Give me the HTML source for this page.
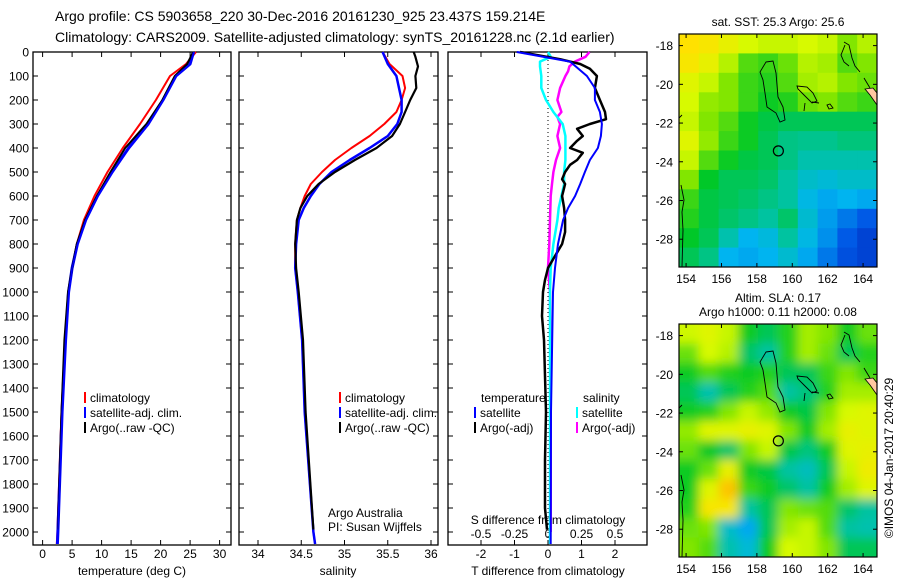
<!DOCTYPE html>
<html><head><meta charset="utf-8">
<style>
html,body{margin:0;padding:0;background:#fff;}
svg{display:block;font-family:"Liberation Sans",sans-serif;}
</style></head>
<body>
<svg id="fig" width="900" height="580" viewBox="0 0 900 580" xmlns="http://www.w3.org/2000/svg">
<defs>
<filter id="blur2" x="-10%" y="-10%" width="120%" height="120%"><feGaussianBlur stdDeviation="5"/></filter>
<clipPath id="clipM1"><rect x="679" y="34" width="198" height="233"/></clipPath>
<clipPath id="clipM2"><rect x="679" y="324" width="198" height="233"/></clipPath>
</defs>
<text x="55" y="21" font-size="14">Argo profile: CS 5903658_220 30-Dec-2016 20161230_925 23.437S 159.214E</text>
<text x="55" y="42" font-size="14">Climatology: CARS2009. Satellite-adjusted climatology: synTS_20161228.nc (2.1d earlier)</text>
<g id="plots"></g>
</svg>
<script>
// ---------- data ----------
const depthT = [0,50,100,200,300,400,500,600,700,800,900,1000,1200,1500,2000,2050];
const tempClim = [26,24.3,21.6,19.2,16.5,13.6,11.0,8.8,7.0,5.8,5.0,4.4,3.8,3.2,2.5,2.4];
const tempSat  = [25.6,25.0,22.6,20.4,17.9,14.6,11.8,9.3,7.3,5.9,5.0,4.4,3.9,3.3,2.6,2.5];
const depthA = [0,50,100,200,300,400,500,600,700,800,900,1000,1200,1500,1990];
const tempArgo = [25.5,24.5,22.4,20.3,17.6,14.0,11.5,9.2,7.2,5.8,5.0,4.3,3.7,3.2,2.6];

const depthS = [0,50,100,150,200,250,300,350,400,450,500,550,600,650,700,800,900,1000,1200,1500,1700,2000,2050];
const salClim = [35.44,35.52,35.67,35.70,35.66,35.60,35.46,35.29,35.08,34.89,34.74,34.61,34.54,34.49,34.45,34.43,34.43,34.46,34.51,34.54,34.58,34.64,34.66];
const salSat  = [35.44,35.50,35.60,35.63,35.66,35.66,35.61,35.50,35.29,35.06,34.85,34.71,34.61,34.53,34.47,34.44,34.43,34.46,34.51,34.54,34.58,34.64,34.66];
const depthSA = [0,20,60,100,150,200,250,300,350,400,450,500,550,600,650,700,800,900,1000,1200,1500,1990];
const salArgo = [35.80,35.82,35.85,35.82,35.83,35.76,35.70,35.64,35.55,35.37,35.12,34.89,34.70,34.57,34.49,34.45,34.43,34.44,34.47,34.52,34.55,34.64];

const depthD1 = [0,40,100,150,200,250,300,350,400,450,500,550,600,650,700,800,900,1000,1500,2050];
const dTsat = [-0.93,0.66,1.16,1.4,1.4,1.55,1.61,1.58,1.49,1.25,1.1,0.96,0.81,0.6,0.45,0.3,0.21,0.15,0.09,0.08];
const depthD2 = [0,30,50,70,100,150,200,250,280,300,320,350,370,400,420,450,470,500,530,550,600,650,700,750,800,850,900,950,1000,1100,1200,1500,1700,1900,1990];
const dTargo = [-0.84,0.36,0.96,1.25,1.46,1.4,1.55,1.7,1.73,1.25,0.87,1.04,0.87,0.66,1.04,0.87,0.66,0.51,0.42,0.51,0.42,0.48,0.51,0.51,0.42,0.21,0,-0.09,-0.15,-0.18,-0.12,-0.06,-0.09,-0.09,-0.03];
const depthD3 = [0,20,40,60,100,150,200,250,300,350,400,450,500,550,600,650,700,800,900,1000,1500,2050];
const dSsat = [0,0.02,-0.06,-0.06,-0.05,-0.05,-0.015,0.04,0.11,0.13,0.13,0.13,0.12,0.12,0.1,0.08,0.07,0.04,0.02,0.015,0.015,0.015];
const depthD4 = [0,20,40,60,80,100,150,200,250,270,300,350,400,450,500,550,600,700,800,900,1000,1500,2000];
const dSargo = [0.31,0.28,0.2,0.16,0.15,0.13,0.09,0.07,0.1,0.07,0.09,0.07,0.09,0.06,0.04,0.03,0.02,0.015,0.01,0,0.015,0.02,0.02];

const depthTicks = [0,100,200,300,400,500,600,700,800,900,1000,1100,1200,1300,1400,1500,1600,1700,1800,1900,2000];
const tempTicks = [0,5,10,15,20,25,30];
const salTicks = [34,34.5,35,35.5,36];
const salTickLabels = ["34","34.5","35","35.5","36"];
const dTTicks = [-2,-1,0,1,2];
const dSTicks = [-0.5,-0.25,0,0.25,0.5];
const dSTickLabels = ["-0.5","-0.25","0","0.25","0.5"];

const lonTicks = [154,156,158,160,162,164];
const latTicks = [-18,-20,-22,-24,-26,-28];
// map grids: rows from north (-17.5) to south, cols from 153.6 eastward; values 0..1 on colormap
const sstGrid = [
[0.86,0.84,0.8,0.76,0.74,0.74,0.76,0.74,0.66,0.72],
[0.84,0.8,0.72,0.62,0.6,0.64,0.72,0.7,0.62,0.66],
[0.78,0.74,0.66,0.6,0.58,0.62,0.7,0.72,0.66,0.64],
[0.76,0.68,0.66,0.6,0.56,0.58,0.64,0.66,0.62,0.6],
[0.74,0.66,0.62,0.56,0.52,0.5,0.5,0.5,0.5,0.5],
[0.78,0.68,0.6,0.56,0.5,0.45,0.44,0.44,0.46,0.46],
[0.74,0.62,0.56,0.52,0.5,0.45,0.4,0.4,0.4,0.4],
[0.66,0.55,0.5,0.5,0.48,0.42,0.36,0.34,0.36,0.36],
[0.6,0.52,0.5,0.48,0.45,0.42,0.32,0.28,0.3,0.28],
[0.58,0.52,0.48,0.45,0.42,0.48,0.35,0.26,0.2,0.15],
[0.55,0.5,0.4,0.3,0.33,0.42,0.32,0.24,0.15,0.08],
[0.5,0.45,0.3,0.28,0.3,0.35,0.28,0.2,0.12,0.08]];
const slaGrid = [
[0.75,0.78,0.74,0.56,0.5,0.58,0.7,0.66,0.56,0.64],
[0.64,0.76,0.72,0.48,0.42,0.58,0.7,0.64,0.5,0.58],
[0.56,0.62,0.58,0.56,0.58,0.5,0.5,0.6,0.66,0.6],
[0.5,0.4,0.5,0.58,0.62,0.42,0.46,0.58,0.7,0.7],
[0.56,0.58,0.66,0.74,0.68,0.56,0.52,0.66,0.76,0.78],
[0.68,0.78,0.78,0.8,0.78,0.66,0.56,0.7,0.8,0.78],
[0.64,0.55,0.48,0.66,0.74,0.52,0.46,0.56,0.78,0.8],
[0.56,0.64,0.8,0.56,0.52,0.42,0.38,0.5,0.74,0.82],
[0.56,0.78,0.9,0.6,0.56,0.48,0.42,0.56,0.7,0.78],
[0.58,0.84,0.84,0.42,0.5,0.66,0.64,0.62,0.48,0.42],
[0.64,0.66,0.36,0.28,0.5,0.7,0.74,0.62,0.42,0.4],
[0.66,0.62,0.4,0.34,0.56,0.76,0.74,0.66,0.5,0.5]];
const argoLon = 159.214;
const argoLat = -23.437;

// ---------- helpers ----------
const NS = "http://www.w3.org/2000/svg";
const root = document.getElementById('plots');
function mk(tag, attrs, parent, txt){
  const e = document.createElementNS(NS, tag);
  for (const k in attrs) e.setAttribute(k, attrs[k]);
  if (txt !== undefined) e.textContent = txt;
  (parent || root).appendChild(e);
  return e;
}
const TOP = 52, BOT = 545;
const yD = d => TOP + d * 0.24;
const xT = t => 42.6 + t * 5.9;
const xS = s => 258 + (s - 34) * 86.5;
const xDT = v => 548 + v * 33.5;
const xDS = v => 548 + v * 134;

function panel(x0, x1, name){
  const r = mk('rect', {x:x0, y:TOP, width:x1-x0, height:BOT-TOP, fill:'none', stroke:'#000', 'stroke-width':1.3});
  
  
}
function line(xs, ds, xf, color, w, name){
  const pts = xs.map((v,i) => xf(v).toFixed(1) + ',' + yD(ds[i]).toFixed(1)).join(' ');
  const p = mk('polyline', {points:pts, fill:'none', stroke:color, 'stroke-width':w, 'stroke-linejoin':'round'});
  
  
}
function xticks(vals, labels, xf, x0, x1, yLab, name){
  vals.forEach((v,i) => {
    const x = xf(v);
    mk('line', {x1:x, y1:BOT, x2:x, y2:BOT-5, stroke:'#000'});
    mk('line', {x1:x, y1:TOP, x2:x, y2:TOP+5, stroke:'#000'});
    const t = mk('text', {x:x, y:yLab, 'font-size':12, 'text-anchor':'middle'}, root, labels[i]);
    
    
  });
}
function txt(x, y, s, name, size, anchor){
  const t = mk('text', {x:x, y:y, 'font-size':size||12, 'text-anchor':anchor||'start'}, root, s);
  
  
  return t;
}
function legend(x, y, color, label, name){
  const r = mk('rect', {x:x, y:y-10, width:2, height:11, fill:color});
  
  
  txt(x+6, y, label, name);
}

// ---------- panel 1: temperature ----------
panel(33, 231, 'temperature-panel');
depthTicks.forEach(d => {
  mk('line', {x1:33, y1:yD(d), x2:38, y2:yD(d), stroke:'#000'});
  [231,239,438,448,647].forEach(xx => {
    const dir = (xx===231||xx===438||xx===647) ? -5 : 5;
    mk('line', {x1:xx, y1:yD(d), x2:xx+dir, y2:yD(d), stroke:'#000'});
  });
  const t = mk('text', {x:29, y:yD(d)+4.5, 'font-size':12, 'text-anchor':'end'}, root, String(d));
  
  
});
xticks(tempTicks, tempTicks.map(String), xT, 33, 231, 558, 'temperature');
txt(132, 575, 'temperature (deg C)', 'temperature-axis-title', 12, 'middle');
line(tempClim, depthT, xT, '#f00', 2, 'temperature-climatology-line');
line(tempSat, depthT, xT, '#00f', 3, 'temperature-satellite-line');
line(tempArgo, depthA, xT, '#000', 2, 'temperature-argo-line');
line(tempSat, depthT, xT, '#00f', 1.5, 'temperature-satellite-line-top');
legend(84, 402, '#f00', 'climatology', 'legend-climatology-temp');
legend(84, 417, '#00f', 'satellite-adj. clim.', 'legend-satellite-temp');
legend(84, 432, '#000', 'Argo(..raw -QC)', 'legend-argo-temp');

// ---------- panel 2: salinity ----------
panel(239, 438, 'salinity-panel');
xticks(salTicks, salTickLabels, xS, 239, 438, 558, 'salinity');
txt(338, 575, 'salinity', 'salinity-axis-title', 12, 'middle');
line(salClim, depthS, xS, '#f00', 2, 'salinity-climatology-line');
line(salSat, depthS, xS, '#00f', 2.5, 'salinity-satellite-line');
line(salArgo, depthSA, xS, '#000', 2.2, 'salinity-argo-line');
legend(339, 402, '#f00', 'climatology', 'legend-climatology-sal');
legend(339, 417, '#00f', 'satellite-adj. clim.', 'legend-satellite-sal');
legend(339, 432, '#000', 'Argo(..raw -QC)', 'legend-argo-sal');
txt(328, 517, 'Argo Australia', 'credit-argo-australia');
txt(328, 531, 'PI: Susan Wijffels', 'credit-pi');

// ---------- panel 3: differences ----------
panel(448, 647, 'difference-panel');
const zl = mk('line', {x1:xDT(0), y1:TOP, x2:xDT(0), y2:BOT, stroke:'#000', 'stroke-dasharray':'1,3'});


xticks(dTTicks, dTTicks.map(String), xDT, 448, 647, 558, 'temperature-difference');
dSTicks.forEach((v,i) => {
  const t = mk('text', {x:xDS(v), y:538, 'font-size':12, 'text-anchor':'middle'}, root, dSTickLabels[i]);
  
  
});
txt(548, 524, 'S difference from climatology', 'salinity-difference-axis-title', 12, 'middle');
txt(548, 575, 'T difference from climatology', 'temperature-difference-axis-title', 12, 'middle');
line(dSargo, depthD4, xDS, '#f0f', 2.5, 'salinity-argo-difference-line');
line(dSsat, depthD3, xDS, '#0ff', 2.5, 'salinity-satellite-difference-line');
line(dTargo, depthD2, xDT, '#000', 2.5, 'temperature-argo-difference-line');
line(dTsat, depthD1, xDT, '#00f', 2, 'temperature-satellite-difference-line');
txt(481, 402, 'temperature', 'legend-heading-temperature');
txt(583, 402, 'salinity', 'legend-heading-salinity');
legend(474, 417, '#00f', 'satellite', 'legend-temp-satellite');
legend(474, 432, '#000', 'Argo(-adj)', 'legend-temp-argo');
legend(576, 417, '#0ff', 'satellite', 'legend-sal-satellite');
legend(576, 432, '#f0f', 'Argo(-adj)', 'legend-sal-argo');

// ---------- maps ----------
function cmap(v){
  const stops = [[0,[0,40,190]],[0.15,[0,90,230]],[0.3,[0,180,240]],[0.42,[0,195,160]],[0.55,[0,200,40]],[0.66,[130,230,0]],[0.76,[215,250,0]],[0.86,[255,225,0]],[0.95,[250,160,0]],[1,[245,110,0]]];
  for (let i=1;i<stops.length;i++){
    if (v <= stops[i][0]){
      const a=stops[i-1], b=stops[i], f=(v-a[0])/(b[0]-a[0]);
      const c=a[1].map((x,k)=>Math.round(x+(b[1][k]-x)*f));
      return 'rgb('+c.join(',')+')';
    }
  }
  return 'rgb(245,110,0)';
}
const LON0 = 153.6, LON1 = 164.8, LAT0 = -17.4, LAT1 = -29.45;
function drawMap(y0, grid, clip, blur, name){
  const mx = lon => 679 + (lon - LON0) * 17.7;
  const my = lat => y0 + (LAT0 - lat) * 19.36;
  const g = mk('g', {'clip-path':'url(#'+clip+')'});
  
  
  const inner = mk('g', blur ? {filter:'url(#blur2)'} : {}, g);
  const rows = grid.length, cols = grid[0].length;
  const cw = 198/cols, ch = 233/rows;
  grid.forEach((row, r) => row.forEach((v, c) => {
    const pad = blur ? 20 : 0;
    const x = 679 + c*cw - (c===0?pad:0), y = y0 + r*ch - (r===0?pad:0);
    const w = cw + 0.6 + (c===0||c===cols-1?pad:0), h = ch + 0.6 + (r===0||r===rows-1?pad:0);
    const cell = mk('rect', {x:x.toFixed(1), y:y.toFixed(1), width:w.toFixed(1), height:h.toFixed(1), fill:cmap(v)}, inner);
    
    
  }));
  const oy = y0 - 34;
  const land = mk('path', {d:`M873,${oy+88} L877,${oy+93} L877,${oy+105} L870,${oy+95} L865,${oy+89} Z`, fill:'#ffc8a0', stroke:'#000', 'stroke-width':0.8}, g);
  
  
  const coasts = [
    `M766,${oy+62} L773,${oy+61} L776,${oy+73} L778,${oy+97} L783,${oy+107} L785,${oy+120} L780,${oy+122} L776,${oy+113} L767,${oy+107} L765,${oy+93} L763,${oy+80} L760,${oy+72} Z`,
    `M797,${oy+86} L807,${oy+87} L813,${oy+93} L817,${oy+101} L812,${oy+103} L805,${oy+96} L798,${oy+89} Z`,
    `M844,${oy+42} L849,${oy+45} L852,${oy+58} L855,${oy+66} L860,${oy+72} M864,${oy+78} L870,${oy+88}`,
    `M845,${oy+45} L841,${oy+55} L844,${oy+62} L849,${oy+66}`,
    `M682,${oy+115} L679,${oy+118} M681,${oy+185} L684,${oy+200} L682,${oy+212} L683,${oy+230} L682,${oy+267}`,
    `M805,${oy+103} L804,${oy+111} M812,${oy+102} L819,${oy+103} M830,${oy+104} L833,${oy+108} L829,${oy+109} L827,${oy+105} Z`
  ];
  coasts.forEach(d => {
    const p = mk('path', {d:d, fill:'none', stroke:'#000', 'stroke-width':0.9}, g);
    
    
  });
  const c = mk('circle', {cx:mx(argoLon), cy:my(argoLat), r:5, fill:'none', stroke:'#000', 'stroke-width':1.2});
  
  
  const fr = mk('rect', {x:679, y:y0, width:198, height:233, fill:'none', stroke:'#000', 'stroke-width':1.2});
  
  
  lonTicks.forEach(l => {
    const x = mx(l);
    mk('line', {x1:x, y1:y0, x2:x, y2:y0+4, stroke:'#000'});
    mk('line', {x1:x, y1:y0+233, x2:x, y2:y0+229, stroke:'#000'});
    const t = mk('text', {x:x, y:y0+249, 'font-size':12, 'text-anchor':'middle'}, root, String(l));
    
    
  });
  latTicks.forEach(l => {
    const y = my(l);
    mk('line', {x1:679, y1:y, x2:683, y2:y, stroke:'#000'});
    mk('line', {x1:877, y1:y, x2:873, y2:y, stroke:'#000'});
    const t = mk('text', {x:673, y:y+4.5, 'font-size':12, 'text-anchor':'end'}, root, String(l));
    
    
  });
}
drawMap(34, sstGrid, 'clipM1', false, 'sst-map');
txt(778, 26, 'sat. SST: 25.3 Argo: 25.6', 'sst-map-title', 12, 'middle');
drawMap(324, slaGrid, 'clipM2', true, 'sla-map');
txt(778, 302, 'Altim. SLA: 0.17', 'sla-map-title', 12, 'middle');
txt(778, 316, 'Argo h1000: 0.11 h2000: 0.08', 'sla-map-subtitle', 12, 'middle');
const cr = txt(0, 0, '©IMOS 04-Jan-2017 20:40:29', 'imos-credit', 12, 'middle');
cr.setAttribute('transform', 'translate(893,458) rotate(-90)');
</script>
</body></html>
